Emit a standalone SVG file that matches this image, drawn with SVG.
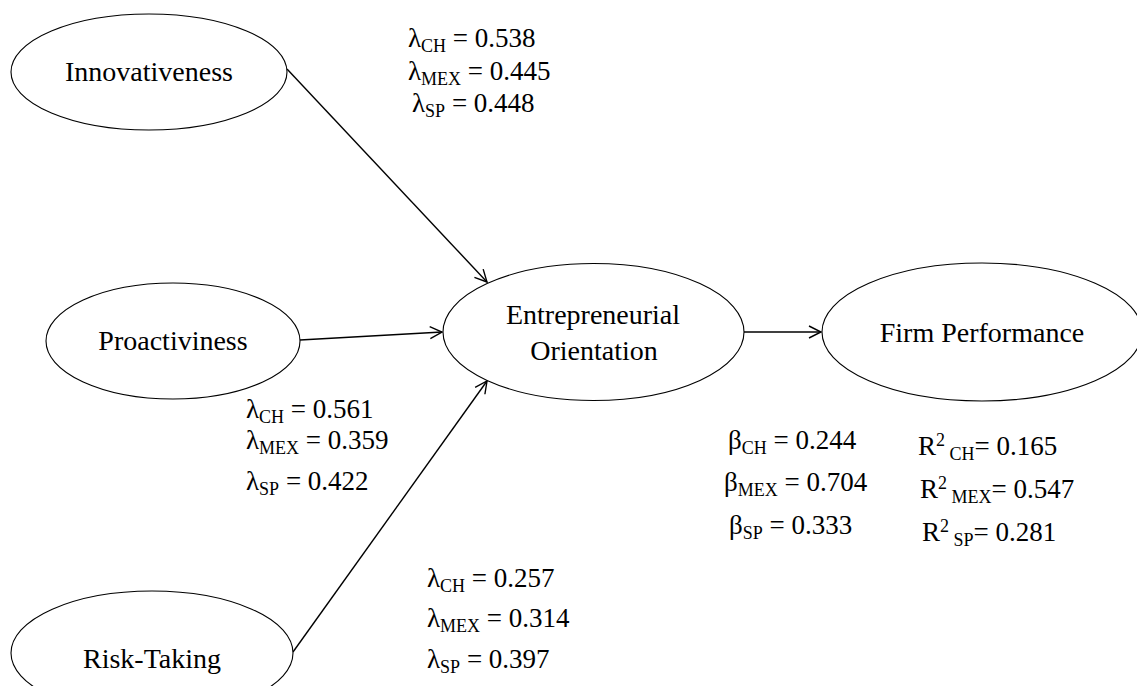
<svg xmlns="http://www.w3.org/2000/svg" width="1137" height="686" viewBox="0 0 1137 686">
<defs>
<style>
.node{fill:#fff;stroke:#000;stroke-width:1.1}
.lbl{font-size:28px;fill:#000}
.val{font-size:27px;fill:#000}
.s{font-size:18px}
.con{stroke:#000;stroke-width:1.4;fill:none;marker-end:url(#arr)}
</style>
<marker id="arr" markerUnits="userSpaceOnUse" markerWidth="16" markerHeight="16" refX="13" refY="7" orient="auto">
<path d="M1,1 L13,7 L1,13" fill="none" stroke="#000" stroke-width="1.4"/>
</marker>
</defs>
<rect width="1137" height="686" fill="#fff"/>
<g id="connectors">
<line class="con" x1="287" y1="69" x2="487" y2="282"/>
<line class="con" x1="300" y1="340" x2="442" y2="332"/>
<line class="con" x1="293" y1="652" x2="487" y2="381"/>
<line class="con" x1="744" y1="332" x2="821" y2="332"/>
</g>
<g font-family="Liberation Serif, Times New Roman, serif">
<g id="innovativeness">
<ellipse class="node" cx="149" cy="72" rx="138" ry="58"/>
<text class="lbl" x="149" y="81" text-anchor="middle">Innovativeness</text>
</g>
<g id="proactiviness">
<ellipse class="node" cx="173" cy="341" rx="127" ry="58"/>
<text class="lbl" x="173" y="350" text-anchor="middle">Proactiviness</text>
</g>
<g id="risk-taking">
<ellipse class="node" cx="152" cy="653" rx="141" ry="62"/>
<text class="lbl" x="152" y="668" text-anchor="middle">Risk-Taking</text>
</g>
<g id="entrepreneurial-orientation">
<ellipse class="node" cx="593.5" cy="332" rx="150.5" ry="68.5"/>
<text class="lbl" x="593" y="324" text-anchor="middle">Entrepreneurial</text>
<text class="lbl" x="594" y="360" text-anchor="middle">Orientation</text>
</g>
<g id="firm-performance">
<ellipse class="node" cx="982" cy="332" rx="160" ry="69"/>
<text class="lbl" x="982" y="342" text-anchor="middle">Firm Performance</text>
</g>
<g id="labels-innovativeness" class="val">
<text x="408" y="47">λ<tspan class="s" dy="5">CH</tspan><tspan dy="-5"> = 0.538</tspan></text>
<text x="408" y="80">λ<tspan class="s" dy="5">MEX</tspan><tspan dy="-5"> = 0.445</tspan></text>
<text x="412" y="112">λ<tspan class="s" dy="5">SP</tspan><tspan dy="-5"> = 0.448</tspan></text>
</g>
<g id="labels-proactiviness" class="val">
<text x="246" y="418">λ<tspan class="s" dy="5">CH</tspan><tspan dy="-5"> = 0.561</tspan></text>
<text x="246" y="449">λ<tspan class="s" dy="5">MEX</tspan><tspan dy="-5"> = 0.359</tspan></text>
<text x="246" y="490">λ<tspan class="s" dy="5">SP</tspan><tspan dy="-5"> = 0.422</tspan></text>
</g>
<g id="labels-risk" class="val">
<text x="427" y="587">λ<tspan class="s" dy="5">CH</tspan><tspan dy="-5"> = 0.257</tspan></text>
<text x="427" y="627">λ<tspan class="s" dy="5">MEX</tspan><tspan dy="-5"> = 0.314</tspan></text>
<text x="427" y="668">λ<tspan class="s" dy="5">SP</tspan><tspan dy="-5"> = 0.397</tspan></text>
</g>
<g id="labels-beta" class="val">
<text x="728" y="449">β<tspan class="s" dy="5">CH</tspan><tspan dy="-5"> = 0.244</tspan></text>
<text x="724" y="491">β<tspan class="s" dy="5">MEX</tspan><tspan dy="-5"> = 0.704</tspan></text>
<text x="729" y="534">β<tspan class="s" dy="5">SP</tspan><tspan dy="-5"> = 0.333</tspan></text>
</g>
<g id="labels-r2" class="val">
<text x="918" y="455">R<tspan class="s" dy="-9">2</tspan><tspan class="s" dy="14"> CH</tspan><tspan dy="-5">= 0.165</tspan></text>
<text x="920" y="498">R<tspan class="s" dy="-9">2</tspan><tspan class="s" dy="14"> MEX</tspan><tspan dy="-5">= 0.547</tspan></text>
<text x="922" y="541">R<tspan class="s" dy="-9">2</tspan><tspan class="s" dy="14"> SP</tspan><tspan dy="-5">= 0.281</tspan></text>
</g>
</g>
</svg>
